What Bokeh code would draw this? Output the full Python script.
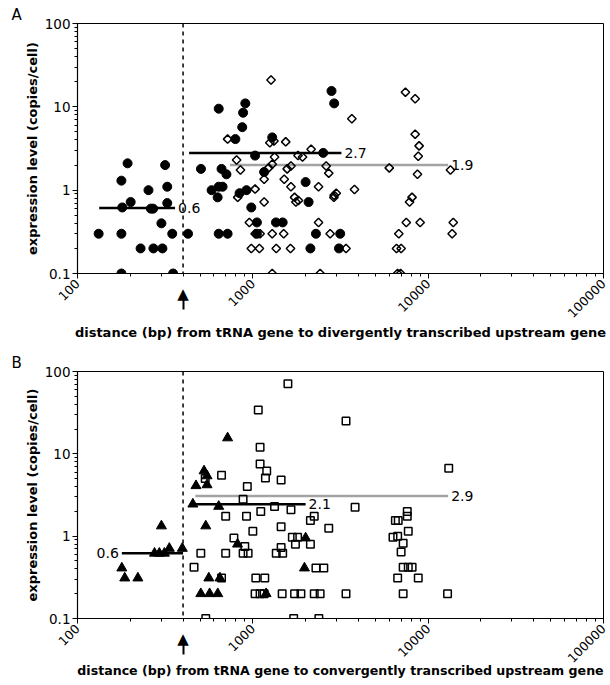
import math
from bokeh.plotting import figure
from bokeh.layouts import column
from bokeh.models import Range1d, Span, CustomJSTickFormatter, LogAxis, FixedTicker
from bokeh.core.properties import value
from bokeh.embed import file_html
from bokeh.resources import INLINE

# ---------------- Panel A data (divergent) ----------------
a_circle_x = [132, 178, 178, 178, 193, 201, 180, 229, 254, 262, 270, 271, 305, 301, 316, 325, 325, 347, 351,
              427, 506, 639, 639, 718, 663, 707, 582, 639, 630, 672, 906, 880, 870, 795, 840, 920, 980,
              1055, 1055, 1030, 1160, 1290, 1355, 1480, 2000, 2080, 2130, 2290, 2520, 2810, 2910, 3150, 3100]
a_circle_y = [0.3, 0.3, 0.1, 1.3, 2.1, 0.72, 0.62, 0.2, 1.0, 0.6, 0.6, 0.2, 0.2, 0.4, 2.0, 1.1, 0.7, 0.3, 0.1,
              0.3, 1.8, 9.5, 0.3, 0.3, 1.8, 1.55, 1.0, 1.1, 0.82, 1.1, 11, 8.5, 5.7, 4.1, 0.92, 1.0, 0.62,
              0.41, 0.3, 2.6, 1.65, 4.3, 0.41, 0.41, 1.25, 0.72, 0.2, 0.3, 2.8, 15.5, 11, 0.3, 0.2]

a_diamond_x = [1270, 718, 1250, 1320, 1540, 808, 850, 1330, 1290, 1230, 1160, 1030, 820, 1160, 955, 1030, 1100,
               1290, 1500, 980, 1090, 1360, 1640, 1290, 1570, 1650, 1510, 1650, 1730, 1760, 1820, 1810, 1920,
               2150, 2370, 2370, 2620, 2710, 2760, 2420, 2910, 7420, 8430, 3670, 8430, 8880, 8780, 6000, 8690,
               13400, 2990, 2900, 3800, 8090, 7830, 7500, 9000, 13900, 6800, 13700, 3400, 6600, 7010, 6690, 6960]
a_diamond_y = [21, 4.1, 3.7, 3.9, 3.8, 2.3, 1.75, 2.5, 2.05, 1.85, 1.35, 1.03, 0.82, 0.72, 0.41, 0.3, 0.3,
               0.3, 0.3, 0.2, 0.2, 0.2, 0.2, 0.1, 1.8, 1.95, 1.35, 1.1, 0.82, 0.72, 0.75, 2.6, 2.5,
               3.1, 0.41, 1.1, 1.95, 1.6, 0.3, 0.1, 0.87, 15, 12.5, 7.2, 4.7, 3.4, 2.55, 1.85, 1.55,
               1.75, 0.92, 0.82, 1.02, 0.82, 0.72, 0.41, 0.41, 0.41, 0.3, 0.3, 0.2, 0.2, 0.2, 0.1, 0.1]

a_med_x0 = [133, 433, 740]
a_med_x1 = [360, 3200, 13000]
a_med_y = [0.61, 2.8, 2.0]
a_med_text = ["0.6", "2.7", "1.9"]
a_med_color = ["black", "black", "#a3a3a3"]

# ---------------- Panel B data (convergent) ----------------
b_tri_x = [179, 186, 221, 301, 275, 293, 313, 334, 396, 455, 539, 561, 649, 505, 567, 631, 639, 818, 1190,
           1970, 2000, 718, 527, 548, 474, 548]
b_tri_y = [0.41, 0.31, 0.31, 1.33, 0.62, 0.62, 0.62, 0.71, 0.71, 2.45, 1.33, 0.31, 0.31, 0.2, 0.2, 0.2, 2.3,
           0.8, 0.2, 0.41, 0.95, 15.6, 6.2, 5.4, 4.1, 4.2]

b_sq_x = [1585, 1074, 1100, 1100, 1200, 1180, 1450, 663, 535, 930, 880, 700, 920, 1110, 1330, 1650, 2130, 2240,
          1000, 1450, 2710, 780, 1680, 1800, 1750, 2130, 505, 700, 880, 940, 1360, 1480, 1450, 462, 1040, 1170,
          2290, 2540, 1030, 1100, 1160, 1470, 1730, 1880, 2240, 2420, 539, 1710, 2380, 663, 900,
          3400, 13100, 3830, 7600, 7600, 6500, 6750, 7700, 6300, 6700, 7200, 7010, 7200, 7700, 8100, 6700,
          8780, 3400, 7200, 12900]
b_sq_y = [71, 34, 12, 7.5, 6.2, 5.1, 4.8, 5.5, 5.0, 4.0, 2.8, 1.75, 1.75, 2.0, 2.3, 2.1, 1.55, 1.75,
          1.15, 1.3, 1.25, 0.95, 0.97, 0.97, 0.8, 0.8, 0.62, 0.62, 0.62, 0.62, 0.62, 0.62, 0.73, 0.42, 0.31, 0.31,
          0.41, 0.41, 0.2, 0.2, 0.2, 0.2, 0.2, 0.2, 0.2, 0.2, 0.1, 0.1, 0.1, 0.31, 0.75,
          25, 6.7, 2.25, 2.0, 1.75, 1.55, 1.55, 1.15, 0.97, 1.0, 0.82, 0.64, 0.42, 0.42, 0.42, 0.31,
          0.31, 0.2, 0.2, 0.2]

b_med_x0 = [179, 445, 470]
b_med_x1 = [400, 2000, 13000]
b_med_y = [0.62, 2.45, 3.07]
b_med_text = ["0.6", "2.1", "2.9"]
b_med_color = ["black", "black", "#a3a3a3"]
b_med_align = ["right", "left", "left"]

cutoff_bp = 400
x_limits = (100, 100000)
y_limits = (0.1, 100)

FONT = "DejaVu Sans"
FIG_W = 610
BORDER_L = 77
BORDER_R = 7


def make_panel(height, top, bottom, xlabel, xlabel_size, xlabel_standoff, letter, main_axis_size):
    p = figure(width=FIG_W, height=height, x_axis_type="log", y_axis_type="log",
               x_range=Range1d(*x_limits), y_range=Range1d(*y_limits),
               output_backend="svg", toolbar_location=None,
               min_border_left=BORDER_L, min_border_right=BORDER_R,
               min_border_top=top, min_border_bottom=bottom,
               title=letter)
    p.title.text_font = FONT
    p.title.text_font_size = "15px"
    p.title.text_font_style = "normal"
    p.title.text_color = "black"
    p.title.align = "left"
    p.title.offset = 11 - BORDER_L
    p.title.standoff = 0
    p.xgrid.visible = False
    p.ygrid.visible = False
    p.outline_line_color = "black"
    p.outline_line_width = 1
    p.outline_line_alpha = 1
    p.background_fill_color = "white"
    p.border_fill_color = "white"
    fmt = CustomJSTickFormatter(code="return String(+tick.toPrecision(3));")
    for ax in (p.xaxis[0], p.yaxis[0]):
        ax.formatter = fmt
        ax.major_label_text_font = FONT
        ax.major_label_text_color = "black"
        ax.axis_line_color = "black"
        ax.axis_line_width = 1.2
        ax.major_tick_line_color = "black"
        ax.minor_tick_line_color = "black"
        ax.major_tick_out = 5
        ax.major_tick_in = 0
        ax.minor_tick_out = 3
        ax.minor_tick_in = 0
        ax.axis_label_text_font = FONT
        ax.axis_label_text_font_style = "bold"
        ax.axis_label_text_font_size = "13px"
        ax.axis_label_text_color = "black"
    p.xaxis.major_label_text_font_size = "12.5px"
    p.yaxis.major_label_text_font_size = "13.5px"
    p.xaxis.major_label_orientation = math.pi / 4
    p.xaxis.major_label_standoff = 3
    p.xaxis.axis_label = xlabel
    p.xaxis.axis_label_text_font_size = xlabel_size
    p.xaxis.axis_label_standoff = xlabel_standoff
    p.yaxis.axis_label = "expression level (copies/cell)"
    p.yaxis.axis_label_standoff = 2
    p.yaxis.major_label_standoff = 2

    # dashed cutoff line
    p.add_layout(Span(location=cutoff_bp, dimension="height", line_color="black",
                      line_width=1.5, line_dash="4 4"))

    # arrow under the x axis at the cutoff: a second axis stacked below the main one,
    # whose single tick (the shaft) and label (the head) reach back up under the main axis
    shaft_top, shaft_bottom, head_top = 22, 34, 9
    t_in = main_axis_size - shaft_top
    t_out = shaft_bottom - main_axis_size
    arrow_axis = LogAxis(ticker=FixedTicker(ticks=[cutoff_bp], minor_ticks=[]),
                         formatter=CustomJSTickFormatter(code="return '\u25B2';"),
                         axis_line_color=None, minor_tick_line_color=None,
                         major_tick_line_color="black", major_tick_line_width=2,
                         major_tick_in=t_in, major_tick_out=t_out,
                         minor_tick_in=t_in, minor_tick_out=t_out,
                         major_label_standoff=head_top - main_axis_size,
                         major_label_orientation="horizontal",
                         major_label_text_font=FONT, major_label_text_font_size="15px",
                         major_label_text_color="black")
    p.add_layout(arrow_axis, "below")
    return p


pA = make_panel(345, 23, 72,
                "distance (bp) from tRNA gene to divergently transcribed upstream gene", "13px", 0, "A", 67)
pA.segment(x0=a_med_x0, y0=a_med_y, x1=a_med_x1, y1=a_med_y, line_color=a_med_color, line_width=2.5)
pA.scatter(a_circle_x, a_circle_y, marker="circle", size=9, fill_color="black", line_color="black")
pA.scatter(a_diamond_x, a_diamond_y, marker="square", angle=math.pi / 4, size=6,
           fill_color=None, line_color="black", line_width=1.5)
pA.text(x=a_med_x1, y=a_med_y, text=a_med_text, x_offset=3, text_font=value(FONT),
        text_font_size=value("14px"), text_baseline="middle", text_align="left", text_color="black")

pB = make_panel(339, 26, 66,
                "distance (bp) from tRNA gene to convergently transcribed upstream gene", "12.6px", -7, "B", 60)
pB.segment(x0=b_med_x0, y0=b_med_y, x1=b_med_x1, y1=b_med_y, line_color=b_med_color, line_width=2.5)
pB.scatter(b_tri_x, b_tri_y, marker="triangle", size=10, fill_color="black", line_color="black")
pB.scatter(b_sq_x, b_sq_y, marker="square", size=7.5, fill_color=None, line_color="black", line_width=1.5)
b_text_x = [x0 if al == "right" else x1 for x0, x1, al in zip(b_med_x0, b_med_x1, b_med_align)]
b_text_off = [-3 if al == "right" else 3 for al in b_med_align]
pB.text(x=b_text_x, y=b_med_y, text=b_med_text, x_offset=b_text_off, text_font=value(FONT),
        text_font_size=value("14px"), text_baseline="middle", text_align=b_med_align, text_color="black")

layout = column(pA, pB)
open("out.html", "w").write(file_html(layout, INLINE))
